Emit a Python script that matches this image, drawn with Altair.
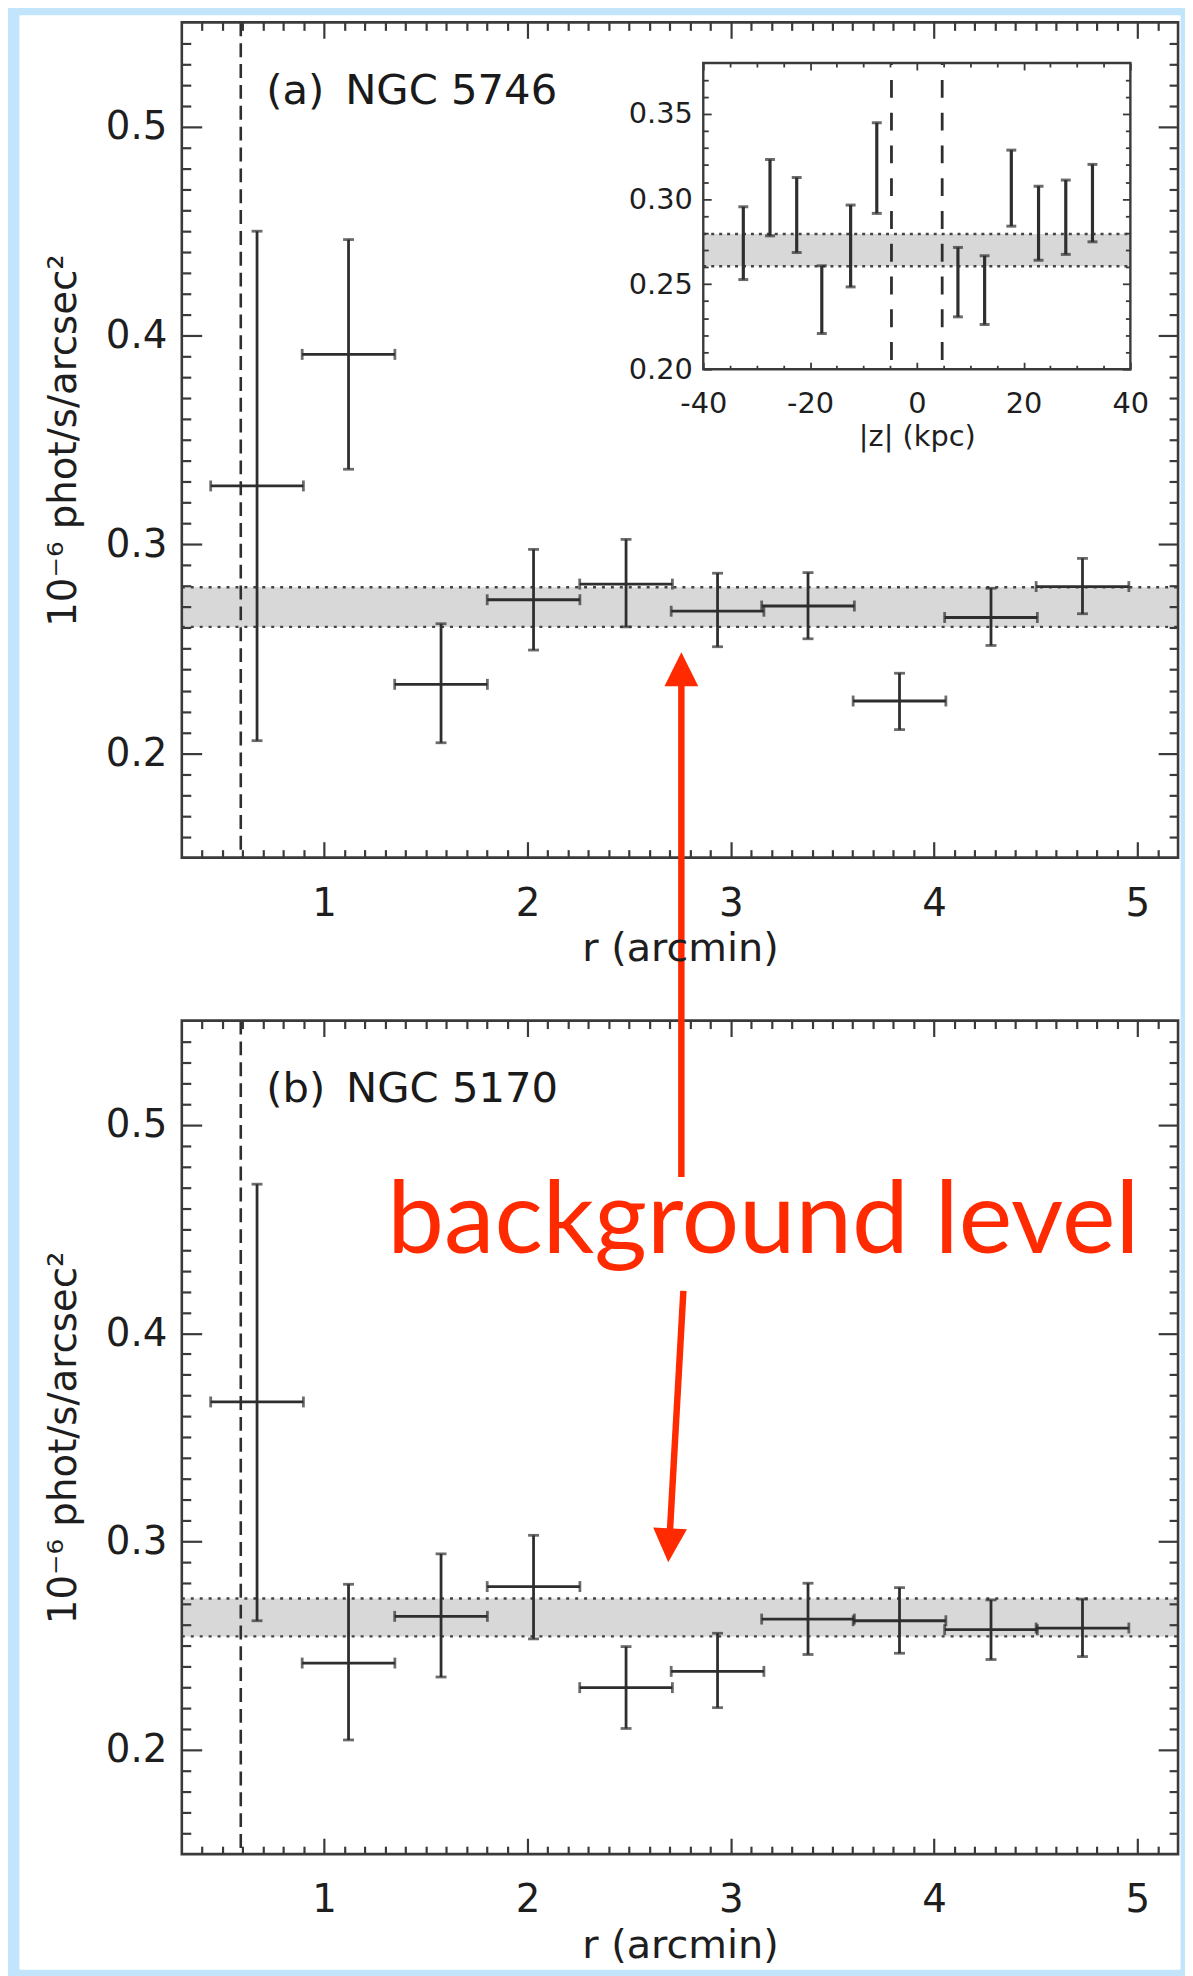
import altair as alt
import pandas as pd

# ------------------------------------------------------------------ data
# radial bins (arcmin) - same binning for both galaxies
R_CENTER = [0.67, 1.12, 1.575, 2.03, 2.485, 2.935, 3.38, 3.83, 4.28, 4.73]
R_HALF = 0.228

# (a) NGC 5746  (10^-6 phot/s/arcsec^2)
A_SB = [0.328, 0.391, 0.233, 0.2735, 0.281, 0.268, 0.2705, 0.225, 0.265, 0.2798]
A_HI = [0.450, 0.446, 0.262, 0.2976, 0.3024, 0.2862, 0.2865, 0.2383, 0.279, 0.2933]
A_LO = [0.206, 0.336, 0.205, 0.2494, 0.2605, 0.251, 0.2548, 0.2113, 0.2516, 0.2668]
A_BG = [0.2605, 0.2795]

# (b) NGC 5170
B_SB = [0.367, 0.2417, 0.2641, 0.2784, 0.2299, 0.2377, 0.2628, 0.262, 0.2577, 0.2585]
B_HI = [0.4715, 0.2795, 0.2941, 0.303, 0.2496, 0.256, 0.28, 0.2779, 0.272, 0.2724]
B_LO = [0.262, 0.2048, 0.235, 0.2533, 0.2103, 0.2203, 0.2458, 0.2464, 0.2434, 0.2448]
B_BG = [0.2545, 0.2727]

R_CORE = 0.59
R_LIM = [0.3, 5.2]
SB_LIM = [0.15, 0.55]
R_MAJOR = [1, 2, 3, 4, 5]
R_MINOR = [round(0.1 * i, 1) for i in range(4, 52) if i % 10 != 0]
SB_MAJOR = [0.2, 0.3, 0.4, 0.5]
SB_MINOR = [round(0.01 * i, 2) for i in range(16, 55) if i % 10 != 0]

# inset: vertical profile of NGC 5746
Z_CENTER = [-32.5, -27.5, -22.5, -17.8, -12.4, -7.5, 7.7, 12.7, 17.7, 22.8, 27.9, 32.9]
Z_HI = [0.2955, 0.3233, 0.3127, 0.2608, 0.2965, 0.3449, 0.2716, 0.2667, 0.3288, 0.3076, 0.3112, 0.3204]
Z_LO = [0.2527, 0.2784, 0.2686, 0.221, 0.2484, 0.2916, 0.2308, 0.2263, 0.2841, 0.2641, 0.2675, 0.2749]
Z_CORE = [-4.75, 4.75]
Z_LIM = [-40, 40]
ZSB_LIM = [0.20, 0.38]
Z_MAJOR = [-40, -20, 0, 20, 40]
Z_MINOR = [v for v in range(-35, 40, 5) if v % 20 != 0]
ZSB_MAJOR = [0.20, 0.25, 0.30, 0.35]
ZSB_MINOR = [round(0.01 * i, 2) for i in range(21, 38) if i % 5 != 0]

# annotation (data coordinates of the panels)
NOTE_TEXT = "background level"
NOTE_R, NOTE_SB = 3.16, 0.4384            # panel (b)
UP_R, UP_SB_FROM, UP_SB_HEAD = 2.757, -0.003, 0.2402      # panel (a)
DN_R_FROM, DN_SB_FROM, DN_R_HEAD, DN_SB_HEAD = 2.767, 0.4203, 2.697, 0.2982  # panel (b)

Y_TITLE = "10\u207b\u2076 phot/s/arcsec\u00b2"
X_TITLE = "r (arcmin)"
Z_TITLE = "|z| (kpc)"

# ------------------------------------------------------------------ layout (page pixels)
PX0, PY0 = 19, 8
W, H = 1169, 1968
MAIN_X = (183, 1186)
A_Y = (856.7, 15.8)
B_Y = (1860.0, 1020.8)
IN_X = (708, 1138)
IN_Y = (365.0, 56.7)

INK = "#2e2e2e"
FRAME = "#3a3a3a"
GREY = "#d8d8d8"
RED = "#ff2a00"
FONT = "DejaVu Sans"


def xsc(dom, px):
    return alt.Scale(domain=dom, range=[px[0] - PX0, px[1] - PX0], nice=False, zero=False)


def ysc(dom, px):
    return alt.Scale(domain=dom, range=[px[0] - PY0, px[1] - PY0], nice=False, zero=False)


def X(f, sc, axis=None):
    return alt.X(f, type="quantitative", scale=sc, axis=axis)


def Y(f, sc, axis=None):
    return alt.Y(f, type="quantitative", scale=sc, axis=axis)


def axis(orient, values, tick, offset, width, **kw):
    base = dict(orient=orient, values=values, tickSize=tick, offset=offset,
                tickWidth=width, tickColor=FRAME, domain=False, grid=False,
                labelFlush=False, labelOverlap=False, zindex=2,
                labelFont=FONT, labelColor="#1e1e1e", titleFont=FONT,
                titleColor="#1e1e1e", titleFontWeight="normal")
    if "labels" not in kw:
        kw["labels"] = False
    if "title" not in kw:
        kw["title"] = None
    base.update(kw)
    return alt.Axis(**base)


def axis_layers(xdom, xpx, ydom, ypx, xmaj, xmin, ymaj, ymin, tx, ty, tw, xlab, ylab):
    xl, xr = xpx[0] - PX0, xpx[1] - PX0
    yb, yt = ypx[0] - PY0, ypx[1] - PY0
    sx, sy = xsc(xdom, xpx), ysc(ydom, ypx)
    df = pd.DataFrame({"x": xdom, "y": ydom})
    out = []
    sides = [
        (axis("bottom", xmaj, tx[0], -(H - yb + tx[0]), tw, **xlab),
         axis("left", ymaj, ty[0], -(xl + ty[0]), tw, **ylab)),
        (axis("bottom", xmin, tx[1], -(H - yb + tx[1]), tw),
         axis("left", ymin, ty[1], -(xl + ty[1]), tw)),
        (axis("top", xmaj, tx[0], -(yt + tx[0]), tw),
         axis("right", ymaj, ty[0], -(W - xr + ty[0]), tw)),
        (axis("top", xmin, tx[1], -(yt + tx[1]), tw),
         axis("right", ymin, ty[1], -(W - xr + ty[1]), tw)),
    ]
    for ax, ay in sides:
        out.append(alt.Chart(df).mark_point(opacity=0).encode(
            x=X("x", sx, ax), y=Y("y", sy, ay)))
    return out


def main_panel(sb, hi, lo, bg, label, ypx):
    sx, sy = xsc(R_LIM, MAIN_X), ysc(SB_LIM, ypx)
    L = []
    band = pd.DataFrame({"x0": [R_LIM[0]], "x1": [R_LIM[1]], "y0": [bg[0]], "y1": [bg[1]]})
    L.append(alt.Chart(band).mark_rect(color=GREY).encode(
        x=X("x0", sx), x2="x1", y=Y("y0", sy), y2="y1"))
    edges = pd.DataFrame({"x0": [R_LIM[0]] * 2, "x1": [R_LIM[1]] * 2, "y": bg})
    L.append(alt.Chart(edges).mark_rule(color="#444444", strokeWidth=2.4, strokeDash=[3, 6]).encode(
        x=X("x0", sx), x2="x1", y=Y("y", sy)))
    core = pd.DataFrame({"x": [R_CORE], "y0": [SB_LIM[1]], "y1": [SB_LIM[0]]})
    L.append(alt.Chart(core).mark_rule(color=INK, strokeWidth=2.6, strokeDash=[14, 7]).encode(
        x=X("x", sx), y=Y("y0", sy), y2="y1"))
    pts = pd.DataFrame({"r": R_CENTER,
                        "rlo": [c - R_HALF for c in R_CENTER],
                        "rhi": [c + R_HALF for c in R_CENTER],
                        "sb": sb, "lo": lo, "hi": hi})
    L.append(alt.Chart(pts).mark_rule(color=INK, strokeWidth=2.8).encode(
        x=X("r", sx), y=Y("lo", sy), y2="hi"))
    L.append(alt.Chart(pts).mark_rule(color=INK, strokeWidth=2.8).encode(
        x=X("rlo", sx), x2="rhi", y=Y("sb", sy)))
    L.append(alt.Chart(pts).transform_fold(["lo", "hi"], as_=["k", "v"]).mark_tick(
        orient="horizontal", size=11, thickness=2.8, color=INK).encode(
        x=X("r", sx), y=Y("v:Q", sy)))
    L.append(alt.Chart(pts).transform_fold(["rlo", "rhi"], as_=["k", "v"]).mark_tick(
        orient="vertical", size=11, thickness=2.8, color=INK).encode(
        x=X("v:Q", sx), y=Y("sb", sy)))
    frame = pd.DataFrame({"x0": [R_LIM[0]], "x1": [R_LIM[1]], "y0": [SB_LIM[0]], "y1": [SB_LIM[1]]})
    L.append(alt.Chart(frame).mark_rect(fillOpacity=0, stroke=FRAME, strokeWidth=2.6).encode(
        x=X("x0", sx), x2="x1", y=Y("y0", sy), y2="y1"))
    lab = pd.DataFrame({"x": [0.715], "y": [0.511], "t": [label]})
    L.append(alt.Chart(lab).mark_text(align="left", baseline="alphabetic", font=FONT,
                                      fontSize=42, color="#1a1a1a").encode(
        x=X("x", sx), y=Y("y", sy), text="t:N"))
    L += axis_layers(R_LIM, MAIN_X, SB_LIM, ypx, R_MAJOR, R_MINOR, SB_MAJOR, SB_MINOR,
                     (16, 8), (20, 9), 2.2,
                     dict(labels=True, format="d", labelFontSize=39, labelPadding=27,
                          title=X_TITLE, titleFontSize=40, titlePadding=6),
                     dict(labels=True, format=".1f", labelFontSize=39, labelPadding=15,
                          title=Y_TITLE, titleFontSize=39, titlePadding=22))
    return L


def inset_panel():
    sx, sy = xsc(Z_LIM, IN_X), ysc(ZSB_LIM, IN_Y)
    L = []
    box = pd.DataFrame({"x0": [Z_LIM[0]], "x1": [Z_LIM[1]], "y0": [ZSB_LIM[0]], "y1": [ZSB_LIM[1]]})
    L.append(alt.Chart(box).mark_rect(color="white").encode(
        x=X("x0", sx), x2="x1", y=Y("y0", sy), y2="y1"))
    band = pd.DataFrame({"x0": [Z_LIM[0]], "x1": [Z_LIM[1]], "y0": [A_BG[0]], "y1": [A_BG[1]]})
    L.append(alt.Chart(band).mark_rect(color=GREY).encode(
        x=X("x0", sx), x2="x1", y=Y("y0", sy), y2="y1"))
    edges = pd.DataFrame({"x0": [Z_LIM[0]] * 2, "x1": [Z_LIM[1]] * 2, "y": A_BG})
    L.append(alt.Chart(edges).mark_rule(color="#444444", strokeWidth=2.4, strokeDash=[3, 5]).encode(
        x=X("x0", sx), x2="x1", y=Y("y", sy)))
    core = pd.DataFrame({"x": Z_CORE, "y0": [ZSB_LIM[1]] * 2, "y1": [ZSB_LIM[0]] * 2})
    L.append(alt.Chart(core).mark_rule(color=INK, strokeWidth=2.8, strokeDash=[18, 15],
                                       strokeDashOffset=16).encode(
        x=X("x", sx), y=Y("y0", sy), y2="y1"))
    pts = pd.DataFrame({"z": Z_CENTER, "lo": Z_LO, "hi": Z_HI})
    L.append(alt.Chart(pts).mark_rule(color=INK, strokeWidth=3.2).encode(
        x=X("z", sx), y=Y("lo", sy), y2="hi"))
    L.append(alt.Chart(pts).transform_fold(["lo", "hi"], as_=["k", "v"]).mark_tick(
        orient="horizontal", size=10, thickness=3, color=INK).encode(
        x=X("z", sx), y=Y("v:Q", sy)))
    L.append(alt.Chart(box).mark_rect(fillOpacity=0, stroke=FRAME, strokeWidth=2.4).encode(
        x=X("x0", sx), x2="x1", y=Y("y0", sy), y2="y1"))
    L += axis_layers(Z_LIM, IN_X, ZSB_LIM, IN_Y, Z_MAJOR, Z_MINOR, ZSB_MAJOR, ZSB_MINOR,
                     (7, 4), (8, 5), 1.8,
                     dict(labels=True, labelExpr="toString(datum.value)", labelFontSize=29,
                          labelPadding=21, title=Z_TITLE, titleFontSize=29, titlePadding=4),
                     dict(labels=True, format=".2f", labelFontSize=29, labelPadding=11))
    return L


def annotation():
    sxa, sya = xsc(R_LIM, MAIN_X), ysc(SB_LIM, A_Y)
    sxb, syb = xsc(R_LIM, MAIN_X), ysc(SB_LIM, B_Y)
    L = []
    up = pd.DataFrame({"r": [UP_R], "y0": [UP_SB_FROM], "y1": [UP_SB_HEAD]})
    L.append(alt.Chart(up).mark_rule(color=RED, strokeWidth=6.5).encode(
        x=X("r", sxa), y=Y("y0", sya), y2="y1"))
    L.append(alt.Chart(up).mark_point(shape="M0,-1L1,1L-1,1Z", size=1160, filled=True,
                                      opacity=1, color=RED).encode(
        x=X("r", sxa), y=Y("y1", sya)))
    dn = pd.DataFrame({"r0": [DN_R_FROM], "y0": [DN_SB_FROM], "r1": [DN_R_HEAD], "y1": [DN_SB_HEAD]})
    L.append(alt.Chart(dn).mark_rule(color=RED, strokeWidth=6.5).encode(
        x=X("r0", sxb), x2="r1", y=Y("y0", syb), y2="y1"))
    L.append(alt.Chart(dn).mark_point(shape="M0,1L1,-1L-1,-1Z", size=1160, filled=True,
                                      opacity=1, color=RED, angle=3).encode(
        x=X("r1", sxb), y=Y("y1", syb)))
    note = pd.DataFrame({"r": [NOTE_R], "y": [NOTE_SB], "t": [NOTE_TEXT]})
    L.append(alt.Chart(note).mark_text(align="center", baseline="alphabetic", font="Lato",
                                       fontSize=102, color=RED).encode(
        x=X("r", sxb), y=Y("y", syb), text="t:N"))
    return L


layers = []
layers += main_panel(A_SB, A_HI, A_LO, A_BG, "(a)\u2002NGC 5746", A_Y)
layers += inset_panel()
layers += main_panel(B_SB, B_HI, B_LO, B_BG, "(b)\u2002NGC 5170", B_Y)
layers += annotation()

chart = alt.layer(*layers).resolve_scale(x="independent", y="independent").properties(
    width=W, height=H, background="#c2e5fb",
    padding={"left": 11, "top": 0, "right": 5, "bottom": 0},
    autosize=alt.AutoSizeParams(type="none"),
).configure_view(fill="white", stroke="transparent")

chart.save("out.html", embed_options={"renderer": "svg", "actions": False})
